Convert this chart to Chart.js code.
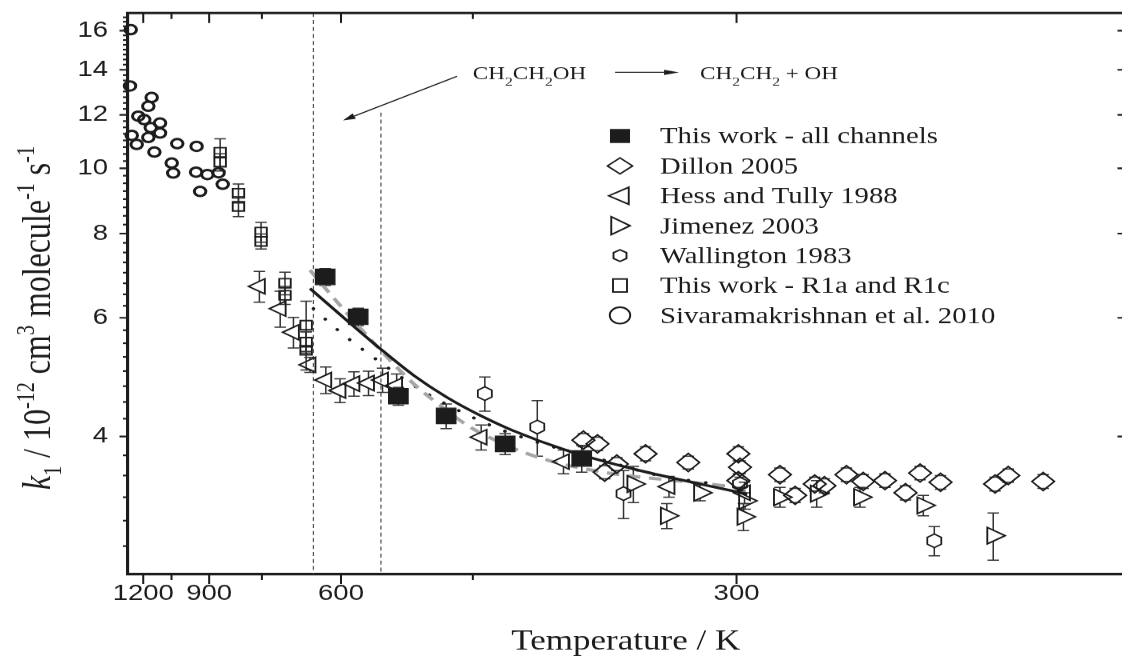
<!DOCTYPE html>
<html>
<head>
<meta charset="utf-8">
<script src="https://cdn.jsdelivr.net/npm/chart.js@4.4.1/dist/chart.umd.min.js"></script>
<style>
html,body{margin:0;padding:0;overflow:hidden;background:#fff}
canvas{display:block}
</style>
</head>
<body>
<canvas id="c" width="904" height="664" style="width:1130px;height:664px"></canvas>
<script>
// ---------------- data (T in K, k in 1e-12 cm3 molecule-1 s-1) ----------------
const allT   = [625, 575, 524, 474, 424, 373];
const allK   = [6.90, 6.02, 4.59, 4.29, 3.90, 3.71];
const allErr = [0.20, 0.18, 0.14, 0.18, 0.14, 0.17];

const dilT   = [372, 364, 360, 353.5, 339, 319.5, 299.3, 298.7, 299.3, 284.4, 279.3, 273, 270, 263.4, 258.6, 252.6, 247.2, 243.5, 238.5, 226.1, 223.3, 216.2];
const dilK   = [3.95, 3.90, 3.54, 3.64, 3.77, 3.66, 3.77, 3.60, 3.44, 3.51, 3.27, 3.40, 3.38, 3.51, 3.43, 3.44, 3.30, 3.53, 3.42, 3.40, 3.50, 3.43];
const dilErr = [0.09, 0.09, 0.08, 0.08, 0.09, 0.08, 0.09, 0.08, 0.08, 0.08, 0.08, 0.08, 0.08, 0.08, 0.08, 0.08, 0.08, 0.08, 0.08, 0.08, 0.08, 0.08];

const hesT   = [756, 709, 682, 651, 624, 601.5, 581, 561, 543, 526, 443, 384, 328, 297];
const hesK   = [6.68, 6.19, 5.71, 5.11, 4.85, 4.68, 4.79, 4.80, 4.85, 4.76, 3.99, 3.67, 3.37, 3.30];
const hesErr = [0.35, 0.38, 0.30, 0.13, 0.22, 0.19, 0.20, 0.20, 0.20, 0.19, 0.17, 0.15, 0.12, 0.12];

const jimT   = [345, 329, 314.5, 297.4, 296.8, 284.4, 272.4, 259.5, 242.7, 226.5];
const jimK   = [3.40, 3.05, 3.30, 3.04, 3.21, 3.25, 3.29, 3.25, 3.16, 2.85];
const jimErr = [0.21, 0.13, 0.09, 0.14, 0.09, 0.11, 0.15, 0.11, 0.11, 0.23];

const walT   = [440, 401, 350, 298.7, 240];
const walK   = [4.63, 4.13, 3.29, 3.40, 2.80];
const walErr = [0.27, 0.39, 0.27, 0.08, 0.14];

const r1T    = [864, 864, 810, 810, 752, 752, 699, 699, 658, 658, 658];
const r1K    = [10.56, 10.21, 9.18, 8.78, 8.04, 7.79, 6.75, 6.48, 5.85, 5.52, 5.37];
const r1Err  = [0.50, 0.30, 0.30, 0.30, 0.27, 0.20, 0.26, 0.20, 0.50, 0.20, 0.35];

const sivT   = [1281, 1286, 1274, 1241, 1231, 1194, 1170, 1151, 1156, 1170, 1136, 1106, 1106, 1049, 1042, 1024, 945, 947, 932, 906, 869, 856];
const sivK   = [16.06, 13.25, 11.19, 10.85, 11.95, 11.81, 12.36, 12.74, 11.49, 11.11, 10.57, 11.67, 11.28, 10.18, 9.84, 10.88, 10.78, 9.87, 9.24, 9.79, 9.85, 9.47];

const fitSolidT = [651, 591.5, 546, 507, 473.5, 444, 418, 382, 345, 314.5, 296];
const fitSolidK = [6.63, 5.95, 5.40, 4.93, 4.575, 4.30, 4.08, 3.815, 3.58, 3.40, 3.285];
const fitDashT  = [651, 615.6, 591.5, 546, 507, 476.7, 452.4, 430.5, 410.7, 392.6, 376, 360.7, 345, 321.6, 301.2];
const fitDashK  = [7.06, 6.49, 6.10, 5.38, 4.79, 4.41, 4.13, 3.94, 3.79, 3.68, 3.60, 3.54, 3.49, 3.43, 3.37];
const fitDotT   = [645, 596.5, 553.4, 498.3, 453.9, 426.6, 403.7, 383, 365.4, 332.9, 311.1, 296.2];
const fitDotK   = [6.19, 5.665, 5.23, 4.68, 4.30, 4.09, 3.94, 3.815, 3.72, 3.50, 3.41, 3.325];

// ticks & axis ranges
const xTickT      = [1200, 1050, 900, 750, 600, 450, 300];
const xTickLabels = ['1200', '', '900', '', '600', '', '300'];
const yMajorTicks = [4, 6, 8, 10, 12, 14, 16];
const xRangeInvT  = [0.767, 4.966];   // 1000/T
const yRange      = [2.5, 17];
const guideT      = [645, 545];
const guideTopK   = [17, 12.1];

const legendLabels = ['This work - all channels', 'Dillon 2005', 'Hess and Tully 1988', 'Jimenez 2003',
                      'Wallington 1983', 'This work - R1a and R1c', 'Sivaramakrishnan et al. 2010'];

// ---------------- helpers ----------------
const INK = '#1c1c1c';
const toXY = (T, K) => T.map((t, i) => ({x: 1000 / t, y: K[i]}));
const yTicks = [];
for (let q = 11; q <= 67; q++) yTicks.push(q / 4);
const noPad = s => { s.paddingTop = 0; s.paddingBottom = 0; s.paddingLeft = 0; s.paddingRight = 0; };

function hexPath(ctx, x, y, hw, hh) {
  ctx.beginPath();
  ctx.moveTo(x, y - hh);
  ctx.lineTo(x + hw, y - hh / 2);
  ctx.lineTo(x + hw, y + hh / 2);
  ctx.lineTo(x, y + hh);
  ctx.lineTo(x - hw, y + hh / 2);
  ctx.lineTo(x - hw, y - hh / 2);
  ctx.closePath();
}

function arrow(ctx, x1, y1, x2, y2, L, hw) {
  const ang = Math.atan2(y2 - y1, x2 - x1);
  const bx = x2 - Math.cos(ang) * L, by = y2 - Math.sin(ang) * L;
  ctx.beginPath(); ctx.moveTo(x1, y1); ctx.lineTo(bx, by); ctx.stroke();
  ctx.beginPath();
  ctx.moveTo(x2, y2);
  ctx.lineTo(bx + Math.sin(ang) * hw, by - Math.cos(ang) * hw);
  ctx.lineTo(bx - Math.sin(ang) * hw, by + Math.cos(ang) * hw);
  ctx.closePath(); ctx.fill();
}

function chem(ctx, x, y, parts) {
  let cx = x;
  parts.forEach(([t, sub]) => {
    ctx.font = sub ? '12.5px "Liberation Serif"' : '18.5px "Liberation Serif"';
    ctx.fillText(t, cx, y + (sub ? 6 : 0));
    cx += ctx.measureText(t).width;
  });
}

const legendMarkers = [
  (ctx, x, y) => { ctx.fillStyle = INK; ctx.fillRect(x - 8, y - 7, 16, 14); },
  (ctx, x, y) => { ctx.beginPath(); ctx.moveTo(x - 10, y); ctx.lineTo(x, y - 8); ctx.lineTo(x + 10, y); ctx.lineTo(x, y + 8); ctx.closePath(); ctx.stroke(); },
  (ctx, x, y) => { ctx.beginPath(); ctx.moveTo(x - 9, y); ctx.lineTo(x + 7, y - 8.5); ctx.lineTo(x + 7, y + 8.5); ctx.closePath(); ctx.stroke(); },
  (ctx, x, y) => { ctx.beginPath(); ctx.moveTo(x + 8, y); ctx.lineTo(x - 7, y - 9); ctx.lineTo(x - 7, y + 9); ctx.closePath(); ctx.stroke(); },
  (ctx, x, y) => { hexPath(ctx, x, y, 5.2, 5.8); ctx.stroke(); },
  (ctx, x, y) => { ctx.strokeRect(x - 5.6, y - 6.5, 11.2, 13); },
  (ctx, x, y) => { ctx.beginPath(); ctx.arc(x, y, 8.2, 0, Math.PI * 2); ctx.stroke(); }
];

// ---------------- plugin for frame, ticks, error bars, annotations ----------------
const decor = {
  id: 'decor',
  beforeDatasetsDraw(chart) {
    const {ctx, chartArea: a, scales: {x, y}} = chart;
    ctx.save();
    ctx.strokeStyle = '#555'; ctx.lineWidth = 1; ctx.setLineDash([4, 3]);
    guideT.forEach((T, i) => {
      const px = x.getPixelForValue(1000 / T);
      const top = Math.max(a.top, y.getPixelForValue(guideTopK[i]));
      ctx.beginPath(); ctx.moveTo(px, top); ctx.lineTo(px, a.bottom); ctx.stroke();
    });
    ctx.setLineDash([]);
    chart.data.datasets.forEach(ds => {
      if (!ds.errors) return;
      ctx.strokeStyle = '#333'; ctx.lineWidth = 1.2;
      const g = ds.errGap || 0, cw = 4.6;
      ds.data.forEach((p, i) => {
        const e = ds.errors[i];
        const px = x.getPixelForValue(p.x), py = y.getPixelForValue(p.y);
        const yt = y.getPixelForValue(p.y + e), yb = y.getPixelForValue(p.y - e);
        ctx.beginPath();
        if (py - g > yt) { ctx.moveTo(px, yt); ctx.lineTo(px, py - g); }
        if (py + g < yb) { ctx.moveTo(px, py + g); ctx.lineTo(px, yb); }
        ctx.moveTo(px - cw, yt); ctx.lineTo(px + cw, yt);
        ctx.moveTo(px - cw, yb); ctx.lineTo(px + cw, yb);
        ctx.stroke();
      });
    });
    ctx.restore();
  },
  afterDatasetsDraw(chart) {
    const {ctx} = chart;
    ctx.save();
    chart.data.datasets.forEach((ds, di) => {
      if (!ds.hexagon) return;
      const meta = chart.getDatasetMeta(di);
      ctx.strokeStyle = INK; ctx.lineWidth = 1.4;
      meta.data.forEach(el => { hexPath(ctx, el.x, el.y, 5.6, 6.8); ctx.stroke(); });
    });
    ctx.restore();
  },
  afterDraw(chart) {
    const {ctx, chartArea: a, scales: {x, y}} = chart;
    ctx.save();
    ctx.strokeStyle = INK; ctx.fillStyle = INK;
    // top & right frame lines
    ctx.lineWidth = 2.5;
    ctx.beginPath(); ctx.moveTo(a.left - 1, a.top); ctx.lineTo(a.right, a.top); ctx.lineTo(a.right, a.bottom); ctx.stroke();
    // x ticks (bottom outward, top inward)
    ctx.lineWidth = 1.6;
    x.ticks.forEach((t, i) => {
      const px = x.getPixelForValue(t.value);
      const len = xTickLabels[i] ? 10 : 6;
      ctx.beginPath();
      ctx.moveTo(px, a.bottom); ctx.lineTo(px, a.bottom + len);
      ctx.moveTo(px, a.top); ctx.lineTo(px, a.top + len);
      ctx.stroke();
    });
    // y ticks (left outward with minors, right inward majors)
    ctx.lineWidth = 1.7;
    y.ticks.forEach(t => {
      const py = y.getPixelForValue(t.value);
      const major = yMajorTicks.includes(t.value);
      ctx.beginPath();
      ctx.moveTo(a.left - (major ? 6.4 : 3.6), py); ctx.lineTo(a.left, py);
      if (major) { ctx.moveTo(a.right - 5.2, py); ctx.lineTo(a.right, py); }
      ctx.stroke();
    });
    // legend
    ctx.lineWidth = 1.5;
    ctx.textBaseline = 'alphabetic'; ctx.textAlign = 'left';
    legendLabels.forEach((lab, i) => {
      const base = 143.5 + i * 29.9;
      ctx.strokeStyle = INK; ctx.fillStyle = INK;
      legendMarkers[i](ctx, 496, base - 7.5);
      ctx.fillStyle = INK;
      ctx.font = '23px "Liberation Serif"';
      ctx.fillText(lab, 528, base);
    });
    // reaction annotation
    ctx.fillStyle = INK; ctx.strokeStyle = INK; ctx.lineWidth = 1.1;
    chem(ctx, x.getPixelForValue(1000 / 450), y.getPixelForValue(13.55), [['CH', 0], ['2', 1], ['CH', 0], ['2', 1], ['OH', 0]]);
    chem(ctx, x.getPixelForValue(1000 / 314.5), y.getPixelForValue(13.55), [['CH', 0], ['2', 1], ['CH', 0], ['2', 1], [' + OH', 0]]);
    arrow(ctx, x.getPixelForValue(1000 / 354.4), y.getPixelForValue(13.88), x.getPixelForValue(1000 / 323.5), y.getPixelForValue(13.88), 12, 2.6);
    arrow(ctx, x.getPixelForValue(1000 / 463.9), y.getPixelForValue(13.69), x.getPixelForValue(1000 / 597), y.getPixelForValue(11.78), 10, 3);
    // y axis title
    ctx.translate(40, 490);
    ctx.rotate(-Math.PI / 2);
    const parts = [
      ['k', 'italic 32px "Liberation Serif"', 0],
      ['1', '20px "Liberation Serif"', 9],
      [' / 10', '32px "Liberation Serif"', 0],
      ['-12', '20px "Liberation Serif"', -13],
      [' cm', '32px "Liberation Serif"', 0],
      ['3', '20px "Liberation Serif"', -13],
      [' molecule', '32px "Liberation Serif"', 0],
      ['-1', '20px "Liberation Serif"', -13],
      [' s', '32px "Liberation Serif"', 0],
      ['-1', '20px "Liberation Serif"', -13]
    ];
    let cx = 0;
    parts.forEach(([t, f, dy]) => { ctx.font = f; ctx.fillText(t, cx, dy); cx += ctx.measureText(t).width; });
    ctx.restore();
  }
};

// ---------------- chart ----------------
const open = 'rgba(0,0,0,0)';
new Chart(document.getElementById('c'), {
  type: 'scatter',
  data: {
    datasets: [
      {label: 'This work - all channels', data: toXY(allT, allK), errors: allErr, errGap: 0,
       pointStyle: 'rect', pointRadius: 11, pointBackgroundColor: INK, pointBorderColor: INK, pointBorderWidth: 1},
      {label: 'This work - R1a and R1c', data: toXY(r1T, r1K), errors: r1Err, errGap: 0,
       pointStyle: 'rect', pointRadius: 6.5, pointBackgroundColor: open, pointBorderColor: INK, pointBorderWidth: 1.5},
      {label: 'Wallington 1983', data: toXY(walT, walK), errors: walErr, errGap: 6.8, hexagon: true,
       pointRadius: 0, pointHoverRadius: 0},
      {label: 'Hess and Tully 1988', data: toXY(hesT, hesK), errors: hesErr, errGap: 5,
       pointStyle: 'triangle', pointRotation: -90, pointRadius: 8.7, pointBackgroundColor: open, pointBorderColor: INK, pointBorderWidth: 1.5},
      {label: 'Jimenez 2003', data: toXY(jimT, jimK), errors: jimErr, errGap: 5.5,
       pointStyle: 'triangle', pointRotation: 90, pointRadius: 9.5, pointBackgroundColor: open, pointBorderColor: INK, pointBorderWidth: 1.5},
      {label: 'Dillon 2005', data: toXY(dilT, dilK), errors: dilErr, errGap: 9,
       pointStyle: 'rectRot', pointRadius: 9, pointBackgroundColor: open, pointBorderColor: INK, pointBorderWidth: 1.5},
      {label: 'Sivaramakrishnan et al. 2010', data: toXY(sivT, sivK), clip: false,
       pointStyle: 'circle', pointRadius: 4.6, pointBackgroundColor: open, pointBorderColor: INK, pointBorderWidth: 2.4},
      {label: 'fit (solid)', data: toXY(fitSolidT, fitSolidK), showLine: true, pointRadius: 0,
       borderColor: INK, borderWidth: 2.6, cubicInterpolationMode: 'monotone'},
      {label: 'fit (dashed)', data: toXY(fitDashT, fitDashK), showLine: true, pointRadius: 0,
       borderColor: '#a6a6a6', borderWidth: 3.2, borderDash: [10, 7], cubicInterpolationMode: 'monotone'},
      {label: 'fit (dotted)', data: toXY(fitDotT, fitDotK), showLine: true, pointRadius: 0,
       borderColor: INK, borderWidth: 3, borderDash: [0.1, 14], borderCapStyle: 'round', cubicInterpolationMode: 'monotone'}
    ]
  },
  options: {
    responsive: false,
    devicePixelRatio: 1.25,
    animation: false,
    events: [],
    layout: {autoPadding: false, padding: {left: 0, right: 4.8, top: 13, bottom: 0}},
    plugins: {legend: {display: false}, tooltip: {enabled: false}, title: {display: false}},
    scales: {
      x: {
        type: 'linear', position: 'bottom',
        min: xRangeInvT[0], max: xRangeInvT[1],
        afterBuildTicks: s => { s.ticks = xTickT.map(T => ({value: 1000 / T})); },
        afterFit: s => { s.height = 90; noPad(s); },
        grid: {display: true, drawOnChartArea: false, drawTicks: false},
        border: {display: true, color: INK, width: 2.5},
        ticks: {
          autoSkip: false, maxRotation: 0, minRotation: 0, padding: 7,
          color: INK, font: {family: 'Liberation Sans', size: 22},
          callback: (v, i) => xTickLabels[i]
        },
        title: {display: true, text: 'Temperature / K', color: INK,
                font: {family: 'Liberation Serif', size: 28}, padding: {top: 0, bottom: 5}}
      },
      y: {
        type: 'logarithmic', position: 'left',
        min: yRange[0], max: yRange[1],
        afterBuildTicks: s => { s.ticks = yTicks.map(v => ({value: v})); },
        afterFit: s => { s.width = 102; noPad(s); },
        grid: {display: true, drawOnChartArea: false, drawTicks: false},
        border: {display: true, color: INK, width: 2.5},
        ticks: {
          autoSkip: false, padding: 15.6,
          color: INK, font: {family: 'Liberation Sans', size: 22},
          callback: v => (yMajorTicks.includes(v) ? String(v) : '')
        },
        title: {display: false}
      }
    }
  },
  plugins: [decor]
});
</script>
</body>
</html>
